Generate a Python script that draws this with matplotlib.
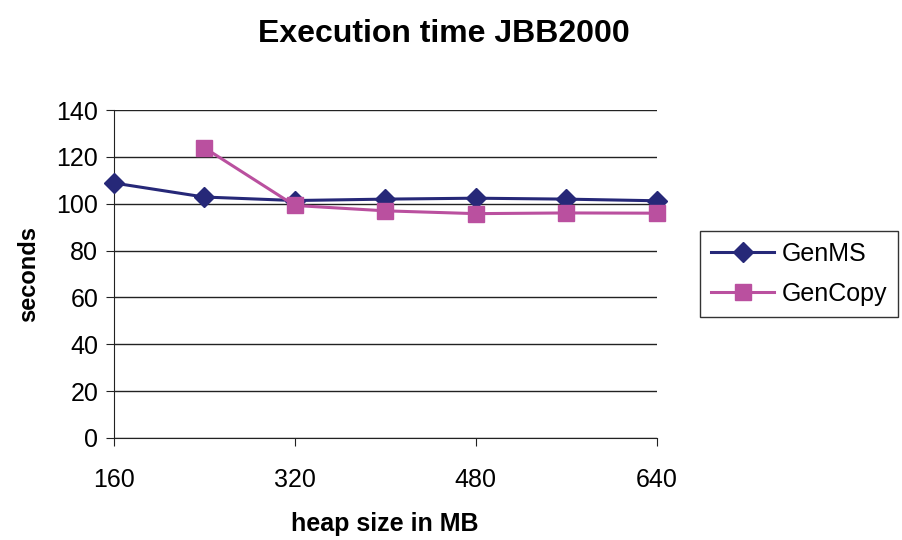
import matplotlib.pyplot as plt

plt.rcParams['font.family'] = ['Liberation Sans', 'DejaVu Sans']

heap = [160, 240, 320, 400, 480, 560, 640]
gen_ms = [108.9, 102.9, 101.4, 102.0, 102.4, 102.0, 101.3]
heap_copy = [240, 320, 400, 480, 560, 640]
gen_copy = [124.0, 99.3, 97.0, 95.8, 96.1, 96.0]
xticks = [160, 320, 480, 640]
yticks = [0, 20, 40, 60, 80, 100, 120, 140]

fig = plt.figure(figsize=(9.02, 5.4), dpi=100)
ax = fig.add_axes([0.126, 0.189, 0.602, 0.607])

ax.plot(heap, gen_ms, color='#262878', lw=2.2, marker='D', markersize=10,
        label='GenMS', zorder=3, clip_on=False)
ax.plot(heap_copy, gen_copy, color='#BA509F', lw=2.2, marker='s', markersize=11,
        label='GenCopy', zorder=3, clip_on=False)

ax.set_xlim(160, 640)
ax.set_ylim(0, 140)
ax.set_xticks(xticks)
ax.set_yticks(yticks)
ax.grid(axis='y', color='#222222', lw=1)
ax.set_axisbelow(True)
for s in ['top', 'right']:
    ax.spines[s].set_visible(False)
ax.spines['left'].set_color('#222222')
ax.spines['bottom'].set_color('#222222')
ax.tick_params(axis='both', labelsize=18, length=6, color='#222222', direction='out')
ax.tick_params(axis='x', pad=16)
ax.tick_params(axis='y', pad=5)

ax.set_xlabel('heap size in MB', fontsize=18, fontweight='bold', labelpad=14)
ax.set_ylabel('seconds', fontsize=17, fontweight='bold', labelpad=12)
fig.suptitle('Execution time JBB2000', fontsize=23, fontweight='bold', x=0.492, y=0.965)

leg = ax.legend(loc='center left', bbox_to_anchor=(1.08, 0.5), fontsize=18,
                frameon=True, fancybox=False, edgecolor='black', handlelength=2.5,
                handletextpad=0.3, borderpad=0.45, labelspacing=0.65, borderaxespad=0)
leg.get_frame().set_linewidth(1)

plt.savefig('out.png', dpi=100)
